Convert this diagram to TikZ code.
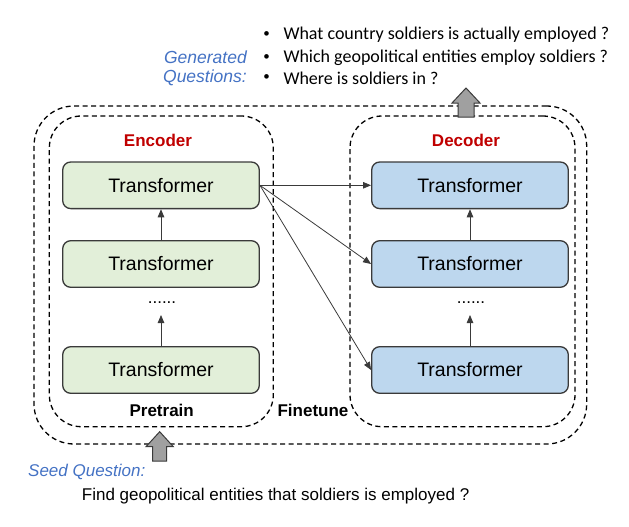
\documentclass[tikz,border=0pt]{standalone}
\usepackage{fontspec}
\setmainfont{Liberation Sans}
\newfontfamily\calfont{Carlito}
\usetikzlibrary{arrows.meta}
\definecolor{encred}{HTML}{C00000}
\definecolor{qblue}{HTML}{4472C4}
\definecolor{encfill}{HTML}{E2EFD9}
\definecolor{decfill}{HTML}{BDD7EE}
\definecolor{boxline}{HTML}{3A3A3A}
\definecolor{bigarrow}{HTML}{A0A0A0}
\begin{document}
\begin{tikzpicture}[x=1pt,y=-1pt,
  tbox/.style={draw=boxline, line width=1.3pt, rounded corners=8pt, minimum width=196.6pt, minimum height=46.6pt, inner sep=0pt, font=\fontsize{19.5}{22}\selectfont},
  encbox/.style={tbox, fill=encfill},
  decbox/.style={tbox, fill=decfill},
  dashbox/.style={draw=black, line width=1.3pt, dash pattern=on 5pt off 3.5pt, inner sep=0pt},
  conn/.style={draw=boxline, line width=0.8pt, -{Triangle[length=8pt,width=6.5pt]}},
  title/.style={font=\bfseries\fontsize{17}{20}\selectfont, text=encred},
  phase/.style={font=\bfseries\fontsize{17}{20}\selectfont},
  bigarr/.style={draw=boxline, fill=bigarrow, line width=1pt, line join=miter},
  qlabel/.style={font=\itshape\fontsize{17.5}{19}\selectfont, text=qblue},
  bullettext/.style={font=\calfont\fontsize{18}{20}\selectfont, anchor=west, inner sep=0pt},
  bulletdot/.style={font=\calfont\fontsize{13}{15}\selectfont, anchor=center, inner sep=0pt},
  dots/.style={font=\fontsize{17}{20}\selectfont, inner sep=0pt}
]
\useasboundingbox (0,0) rectangle (629,527);

% dashed containers
\node[dashbox, rounded corners=40pt, minimum width=552.7pt, minimum height=338pt] (outer) at (310.35,275) {};
\node[dashbox, rounded corners=32pt, minimum width=224pt, minimum height=310.7pt] (encarea) at (161.3,271.35) {};
\node[dashbox, rounded corners=32pt, minimum width=225pt, minimum height=310.7pt] (decarea) at (462.5,271.35) {};

% titles
\node[title] (enctitle) at (158,140) {Encoder};
\node[title] (dectitle) at (466,140) {Decoder};

% encoder stack
\node[encbox] (e1) at (161,185.3) {Transformer};
\node[encbox] (e2) at (161,264) {Transformer};
\node[encbox] (e3) at (161,370) {Transformer};
\node[dots] (edots) at (162,303) {......};

% decoder stack
\node[decbox] (d1) at (470,185.3) {Transformer};
\node[decbox] (d2) at (470,264) {Transformer};
\node[decbox] (d3) at (470,370) {Transformer};
\node[dots] (ddots) at (471,303) {......};

% vertical arrows
\draw[conn] (e2.north) -- (e1.south);
\coordinate (etip) at (161,315);
\draw[conn] (e3.north) -- (etip);
\draw[conn] (d2.north) -- (d1.south);
\coordinate (dtip) at (470,315);
\draw[conn] (d3.north) -- (dtip);

% cross arrows
\draw[conn] (e1.east) -- (d1.west);
\draw[conn] (e1.east) -- (d2.west);
\draw[conn] (e1.east) -- (d3.west);

% phase labels
\node[phase] (pretrain) at (161.7,410) {Pretrain};
\node[phase] (finetune) at (313,410) {Finetune};

% big arrows
\draw[bigarr] (466,88) -- (480,103) -- (474,103) -- (474,117) -- (458,117) -- (458,103) -- (452,103) -- cycle;
\draw[bigarr] (159.7,431.7) -- (173.3,446.7) -- (166.7,446.7) -- (166.7,461) -- (152.7,461) -- (152.7,446.7) -- (146,446.7) -- cycle;

% generated questions
\node[qlabel, align=right, anchor=east, inner sep=0pt] (genq) at (247,68.5) {Generated\\Questions:};
\node[bulletdot] (b1) at (266.7,35) {•};
\node[bulletdot] (b2) at (266.7,57.5) {•};
\node[bulletdot] (b3) at (266.7,78) {•};
\node[bullettext] (q1) at (283.3,35) {What country soldiers is actually employed ?};
\node[bullettext] (q2) at (283.3,57.5) {Which geopolitical entities employ soldiers ?};
\node[bullettext] (q3) at (283.3,78) {Where is soldiers in ?};

% seed question
\node[qlabel, font=\itshape\fontsize{17}{19}\selectfont, anchor=west, inner sep=0pt] (seedq) at (28,471.7) {Seed Question:};
\node[font=\fontsize{17}{20}\selectfont, anchor=west, inner sep=0pt] (seed) at (81.7,496) {Find geopolitical entities that soldiers is employed ?};
\end{tikzpicture}
\end{document}
